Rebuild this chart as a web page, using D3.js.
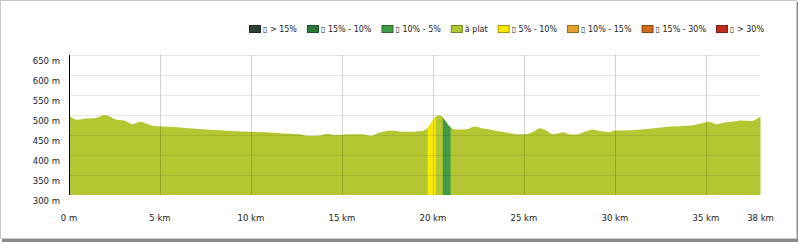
<!DOCTYPE html>
<html>
<head>
<meta charset="utf-8">
<script src="https://cdn.jsdelivr.net/npm/d3@7"></script>
<style>
  html, body { margin: 0; padding: 0; background: #fff; }
  svg { display: block; font-family: "DejaVu Sans", sans-serif; }
</style>
</head>
<body>
<svg id="profile" width="800" height="242"></svg>
<script>
// Elevation profile, distance in km, altitude in m
const distKm = [0, 0.48, 0.93, 1.3, 1.58, 1.94, 2.21, 2.58, 3.04, 3.5, 3.9, 4.23, 4.6, 5.15, 5.7,
  6.24, 6.8, 7.52, 8.29, 9.94, 10.86, 11.75, 12.69, 13.23, 13.78, 14.24, 14.51, 15.34, 16.07,
  16.62, 16.9, 17.17, 17.72, 18.27, 18.82, 19.37, 19.73, 20.0, 20.25, 20.43, 20.65, 20.92, 21.2,
  21.75, 22.02, 22.3, 22.75, 23.12, 23.49, 24.04, 24.59, 25.04, 25.5, 25.86, 26.23, 26.6, 26.87,
  27.14, 27.51, 27.88, 28.34, 28.79, 29.16, 29.71, 29.98, 30.53, 31.26, 32.18, 33.1, 34.01,
  34.56, 35.2, 35.57, 36.02, 36.57, 36.94, 37.49, 38];
const elevM = [498, 488, 491, 492, 494, 500, 497, 489, 486, 477, 483, 479, 473, 471, 470,
  468, 466, 464, 462, 458, 457, 454, 452, 448, 449, 453, 450, 452, 452,
  448, 454, 457, 461, 458, 458, 460, 469, 487, 499, 498, 487, 471, 464,
  464, 467, 471, 466, 464, 460, 456, 452, 452, 458, 467, 461, 452, 454,
  457, 452, 451, 458, 464, 460, 457, 461, 461, 463, 467, 471, 473,
  477, 483, 477, 481, 484, 486, 485, 497];

// slope classes (legend order)
const slopeLabels = ["▯ > 15%", "▯ 15% - 10%", "▯ 10% - 5%", "à plat", "▯ 5% - 10%", "▯ 10% - 15%", "▯ 15% - 30%", "▯ > 30%"];
const slopeColors = ["#2f4034", "#2b7a3b", "#3f9b45", "#b4c733", "#f7ea00", "#e3a22b", "#cf6b1f", "#c2291d"];

// stretches of the route steeper than "à plat"
const stretchFrom = [19.71, 20.54];
const stretchTo = [20.15, 20.97];
const stretchClass = [4, 2];

const yTicks = [300, 350, 400, 450, 500, 550, 600, 650];
const xTicks = [0, 5, 10, 15, 20, 25, 30, 35, 38];

const svg = d3.select("#profile");
const W = 800, H = 242;

// frame with shadow
svg.append("rect").attr("x", 2).attr("y", 2).attr("width", W - 4).attr("height", H - 2).attr("fill", "#8a8a8a");
svg.append("rect").attr("x", 0.5).attr("y", 0.5).attr("width", W - 4).attr("height", H - 4)
  .attr("fill", "#fff").attr("stroke", "#c8c8c8");

const x = d3.scaleLinear().domain([0, 38]).range([69, 760.5]);
const y = d3.scaleLinear().domain([300, 650]).range([195, 55]);

const pts = distKm.map((d, i) => ({ km: d, m: elevM[i] }));

const area = d3.area()
  .x(d => x(d.km))
  .y0(y(300))
  .y1(d => y(d.m))
  .curve(d3.curveMonotoneX);

svg.append("path")
  .attr("d", area(pts))
  .attr("fill", slopeColors[3]);

// coloured stretches: same area clipped to the stretch
const defs = svg.append("defs");
stretchFrom.forEach((f, i) => {
  defs.append("clipPath").attr("id", "clip" + i)
    .append("rect")
    .attr("x", x(f)).attr("y", y(650))
    .attr("width", x(stretchTo[i]) - x(f))
    .attr("height", y(300) - y(650));
  svg.append("path")
    .attr("d", area(pts))
    .attr("clip-path", `url(#clip${i})`)
    .attr("fill", slopeColors[stretchClass[i]]);
});

// grid over the fill
svg.append("g").selectAll("line")
  .data(yTicks.filter(v => v > 300))
  .join("line")
  .attr("x1", x(0)).attr("x2", x(38))
  .attr("y1", d => y(d) + 0.5).attr("y2", d => y(d) + 0.5)
  .attr("stroke", "rgba(0,0,0,0.09)");

svg.append("g").selectAll("line")
  .data(xTicks.filter(v => v > 0 && v < 38))
  .join("line")
  .attr("x1", d => Math.round(x(d)) + 0.5).attr("x2", d => Math.round(x(d)) + 0.5)
  .attr("y1", y(650)).attr("y2", y(300))
  .attr("stroke", "rgba(0,0,0,0.17)");

// left axis line
svg.append("line")
  .attr("x1", x(0) + 0.5).attr("x2", x(0) + 0.5)
  .attr("y1", y(650)).attr("y2", y(300))
  .attr("stroke", "#000");

// tick labels
svg.append("g").selectAll("text")
  .data(yTicks)
  .join("text")
  .attr("x", 60)
  .attr("y", d => y(d) + 9)
  .attr("text-anchor", "end")
  .attr("font-size", 8.5)
  .attr("fill", "#222")
  .text(d => d + " m");

svg.append("g").selectAll("text")
  .data(xTicks)
  .join("text")
  .attr("x", d => x(d))
  .attr("y", 221)
  .attr("text-anchor", "middle")
  .attr("font-size", 8.5)
  .attr("fill", "#222")
  .text(d => d === 0 ? "0 m" : d + " km");

// legend: items spread between 249 and 764
const legend = svg.append("g");
const items = slopeLabels.map((lab, i) => {
  const g = legend.append("g");
  g.append("rect")
    .attr("x", 0.5).attr("y", 25.5)
    .attr("width", 11).attr("height", 7)
    .attr("fill", slopeColors[i])
    .attr("stroke", d3.color(slopeColors[i]).darker(1.2));
  const t = g.append("text")
    .attr("x", 14)
    .attr("y", 32)
    .attr("font-size", 8)
    .attr("fill", "#222")
    .text(lab);
  return { g, w: 14 + t.node().getComputedTextLength() };
});
const used = d3.sum(items, d => d.w);
const gap = (764 - 249 - used) / (items.length - 1);
let lx = 249;
items.forEach(d => {
  d.g.attr("transform", `translate(${lx},0)`);
  lx += d.w + gap;
});
</script>
</body>
</html>
